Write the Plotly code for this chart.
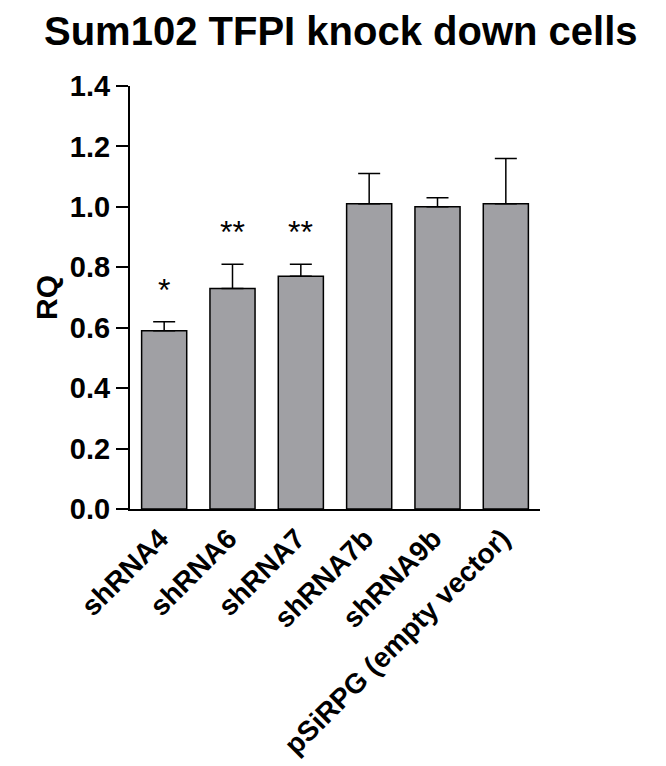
import plotly.graph_objects as go

categories = ["shRNA4", "shRNA6", "shRNA7", "shRNA7b", "shRNA9b", "pSiRPG (empty vector)"]
rq_values = [0.59, 0.73, 0.77, 1.01, 1.00, 1.01]
rq_errors = [0.03, 0.08, 0.04, 0.10, 0.03, 0.15]
significance = ["*", "**", "**", "", "", ""]
y_ticks = [0.0, 0.2, 0.4, 0.6, 0.8, 1.0, 1.2, 1.4]
title_text = "Sum102 TFPI knock down cells"

FONT = "Liberation Sans, Arial, sans-serif"

fig = go.Figure()
fig.add_trace(go.Bar(
    x=categories,
    y=rq_values,
    marker=dict(color="#a0a0a4", line=dict(color="black", width=1.5)),
    error_y=dict(type="data", array=rq_errors, arrayminus=[0] * len(rq_errors),
                 symmetric=False, color="black", thickness=1.5, width=11),
    width=0.66,
))

for cat, v, e, s in zip(categories, rq_values, rq_errors, significance):
    if s:
        fig.add_annotation(x=cat, y=v + e, text=s, showarrow=False,
                           yanchor="bottom", yshift=12,
                           font=dict(family=FONT, size=32, color="black"))

fig.add_annotation(text="<b>" + title_text + "</b>", xref="paper", yref="paper",
                   x=0.5, y=1, xanchor="center", yanchor="middle",
                   xshift=6, yshift=55, showarrow=False,
                   font=dict(family=FONT, size=40, color="black"))

fig.update_layout(
    width=666, height=766,
    margin=dict(l=122, r=134, t=78, b=265),
    plot_bgcolor="white", paper_bgcolor="white",
    showlegend=False,
    xaxis=dict(
        range=[-0.5, 5.5], showline=True, linecolor="black", linewidth=2,
        ticks="", tickangle=-45, showgrid=False, zeroline=False,
        tickfont=dict(family=FONT, size=28, color="black", weight="bold"),
        ticklabelshift=-4,
        automargin=False,
    ),
    yaxis=dict(
        range=[0, 1.4], tickvals=y_ticks, tickformat=".1f",
        showline=True, linecolor="black", linewidth=2,
        ticks="outside", ticklen=12, tickwidth=2, tickcolor="black",
        showgrid=False, zeroline=False,
        tickfont=dict(family=FONT, size=29, color="black", weight="bold"),
        title=dict(text="RQ", standoff=3,
                   font=dict(family=FONT, size=30, color="black", weight="bold")),
        automargin=False,
    ),
)

fig.write_html("out.html")
